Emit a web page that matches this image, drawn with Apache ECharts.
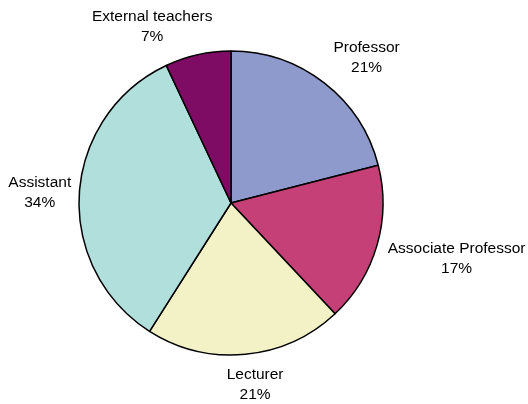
<!DOCTYPE html>
<html>
<head>
<meta charset="utf-8">
<script src="https://cdn.jsdelivr.net/npm/echarts@6/dist/echarts.min.js"></script>
<style>
html,body{margin:0;padding:0;background:#fff;}
#chart{width:528px;height:404px;}
</style>
</head>
<body>
<div id="chart"></div>
<script>
const categories = ['Professor', 'Associate Professor', 'Lecturer', 'Assistant', 'External teachers'];
const values = [21, 17, 21, 34, 7];
const colors = ['#8E9ACB', '#C54077', '#F2F2C6', '#B1DFDC', '#7E0C65'];
// small label placement tweaks (pixels) to mimic the original's label positions
const labelNudgeX = [16, 4, 7, 0, -37];
const labelNudgeY = [9, -9, 1, 1.5, 11];

const CX = 231, CY = 203, R = 152, GAP = 7;
const total = values.reduce((a, b) => a + b, 0);
const midAngles = [];
let acc = 0;
values.forEach(v => { midAngles.push((acc + v / 2) / total * 2 * Math.PI); acc += v; });

const chart = echarts.init(document.getElementById('chart'), null, {renderer: 'canvas'});
chart.setOption({
  backgroundColor: '#ffffff',
  animation: false,
  series: [{
    type: 'pie',
    center: [CX, CY],
    radius: [0, R],
    startAngle: 90,
    clockwise: true,
    avoidLabelOverlap: false,
    percentPrecision: 0,
    itemStyle: { borderColor: '#000000', borderWidth: 1.5 },
    emphasis: { disabled: true },
    label: {
      show: true,
      position: 'outside',
      formatter: '{b}\n{d}%',
      fontFamily: 'Liberation Sans, Arial, sans-serif',
      fontSize: 15.5,
      lineHeight: 20,
      color: '#000000',
      align: 'center'
    },
    labelLine: { show: false },
    labelLayout: function (p) {
      const i = p.dataIndex;
      const a = midAngles[i];
      const ux = Math.sin(a), uy = -Math.cos(a);
      const w = p.labelRect.width, h = p.labelRect.height;
      const d = R + GAP + Math.abs(ux) * w / 2 + Math.abs(uy) * h / 2;
      return {
        x: CX + ux * d + labelNudgeX[i],
        y: CY + uy * d + labelNudgeY[i],
        align: 'center',
        verticalAlign: 'middle'
      };
    },
    data: categories.map((c, i) => ({ name: c, value: values[i], itemStyle: { color: colors[i] } }))
  }]
});
</script>
</body>
</html>
